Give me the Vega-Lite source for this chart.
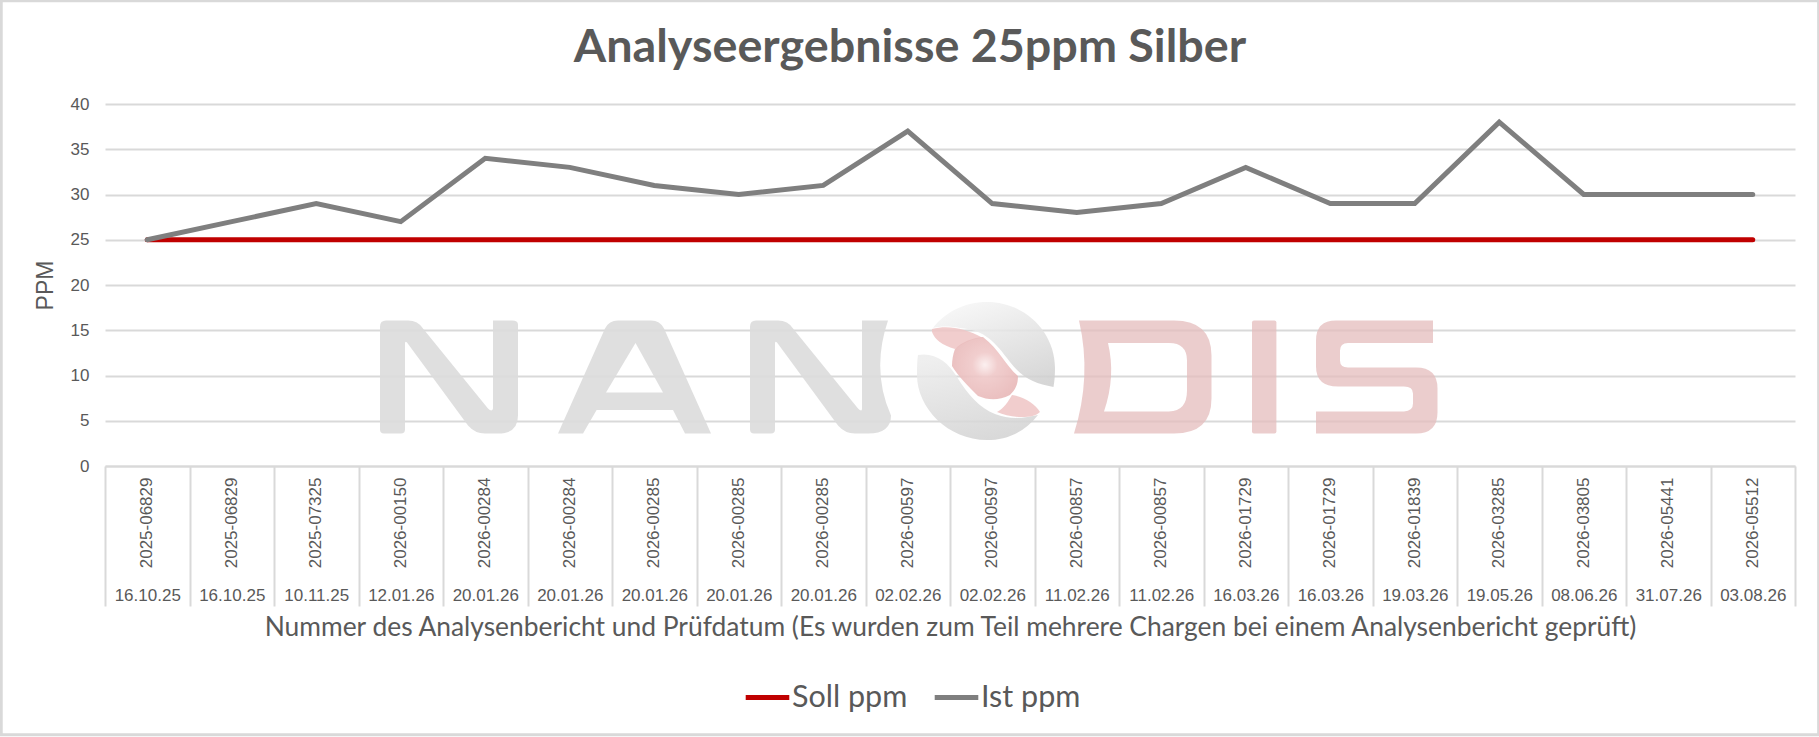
{
"$schema":"https://vega.github.io/schema/vega-lite/v6.json",
"width":1690,"height":362,"autosize":"none",
"padding":{"left":105,"top":104,"right":24,"bottom":271},
"background":"#ffffff",
"title":{"text":"Analyseergebnisse 25ppm Silber","font":"Lato","fontSize":46.7,"fontWeight":"bold","color":"#595959","anchor":"middle","frame":"group","dx":-40,"offset":-109,"baseline":"alphabetic"},
"config":{"view":{"stroke":null},"font":"Liberation Sans"},
"datasets":{"rows":[
{"key":"2025-06829|16.10.25|a","series":"Soll ppm","ppm":25},{"key":"2025-06829|16.10.25|b","series":"Soll ppm","ppm":25},{"key":"2025-07325|10.11.25","series":"Soll ppm","ppm":25},{"key":"2026-00150|12.01.26","series":"Soll ppm","ppm":25},{"key":"2026-00284|20.01.26|a","series":"Soll ppm","ppm":25},{"key":"2026-00284|20.01.26|b","series":"Soll ppm","ppm":25},{"key":"2026-00285|20.01.26|a","series":"Soll ppm","ppm":25},{"key":"2026-00285|20.01.26|b","series":"Soll ppm","ppm":25},{"key":"2026-00285|20.01.26|c","series":"Soll ppm","ppm":25},{"key":"2026-00597|02.02.26|a","series":"Soll ppm","ppm":25},{"key":"2026-00597|02.02.26|b","series":"Soll ppm","ppm":25},{"key":"2026-00857|11.02.26|a","series":"Soll ppm","ppm":25},{"key":"2026-00857|11.02.26|b","series":"Soll ppm","ppm":25},{"key":"2026-01729|16.03.26|a","series":"Soll ppm","ppm":25},{"key":"2026-01729|16.03.26|b","series":"Soll ppm","ppm":25},{"key":"2026-01839|19.03.26","series":"Soll ppm","ppm":25},{"key":"2026-03285|19.05.26","series":"Soll ppm","ppm":25},{"key":"2026-03805|08.06.26","series":"Soll ppm","ppm":25},{"key":"2026-05441|31.07.26","series":"Soll ppm","ppm":25},{"key":"2026-05512|03.08.26","series":"Soll ppm","ppm":25},
{"key":"2025-06829|16.10.25|a","series":"Ist ppm","ppm":25},{"key":"2025-06829|16.10.25|b","series":"Ist ppm","ppm":27},{"key":"2025-07325|10.11.25","series":"Ist ppm","ppm":29},{"key":"2026-00150|12.01.26","series":"Ist ppm","ppm":27},{"key":"2026-00284|20.01.26|a","series":"Ist ppm","ppm":34},{"key":"2026-00284|20.01.26|b","series":"Ist ppm","ppm":33},{"key":"2026-00285|20.01.26|a","series":"Ist ppm","ppm":31},{"key":"2026-00285|20.01.26|b","series":"Ist ppm","ppm":30},{"key":"2026-00285|20.01.26|c","series":"Ist ppm","ppm":31},{"key":"2026-00597|02.02.26|a","series":"Ist ppm","ppm":37},{"key":"2026-00597|02.02.26|b","series":"Ist ppm","ppm":29},{"key":"2026-00857|11.02.26|a","series":"Ist ppm","ppm":28},{"key":"2026-00857|11.02.26|b","series":"Ist ppm","ppm":29},{"key":"2026-01729|16.03.26|a","series":"Ist ppm","ppm":33},{"key":"2026-01729|16.03.26|b","series":"Ist ppm","ppm":29},{"key":"2026-01839|19.03.26","series":"Ist ppm","ppm":29},{"key":"2026-03285|19.05.26","series":"Ist ppm","ppm":38},{"key":"2026-03805|08.06.26","series":"Ist ppm","ppm":30},{"key":"2026-05441|31.07.26","series":"Ist ppm","ppm":30},{"key":"2026-05512|03.08.26","series":"Ist ppm","ppm":30}
]},
"resolve":{"scale":{"x":"independent"},"axis":{"x":"independent"}},
"layer":[
{"data":{"values":[{"part":"N"}]},"mark":{"type":"point","filled":true,"size":4,"opacity":0.9,"color":"#dcdcdc","shape":"M0,6 Q0,0 6,0 L28,0 Q38,0 43,8 L108,88 Q112,92 113,88 L113,0 L132,0 Q138,0 138,4 L138,95 Q138,113 118,113 L105,113 Q95,113 88,105 L27,22 Q25,20 25,23 L25,109 Q25,113 21,113 L4,113 Q0,113 0,109 Z"},"encoding":{"x":{"datum":16.272,"type":"quantitative","scale":{"domain":[0,100]},"axis":null},"y":{"datum":16.066,"type":"quantitative"}}},
{"data":{"values":[{"part":"A"}]},"mark":{"type":"point","filled":true,"size":4,"opacity":0.9,"color":"#dcdcdc","shape":"M0,113 L47,8 Q51,0 60,0 L93,0 Q102,0 106,8 L153,113 L127,113 L115,89.5 L38.6,89.5 L25,113 Z M77.5,22.5 L48,72 L105,72 Z"},"encoding":{"x":{"datum":26.805,"type":"quantitative","scale":{"domain":[0,100]},"axis":null},"y":{"datum":16.066,"type":"quantitative"}}},
{"data":{"values":[{"part":"N2"}]},"mark":{"type":"point","filled":true,"size":4,"opacity":0.9,"color":"#dcdcdc","shape":"M0,6 Q0,0 6,0 L28,0 Q38,0 43,8 L108,88 Q112,92 112,88 L112,0 L138,0 Q121,50 141,95 Q141,113 118,113 L105,113 Q95,113 88,105 L27,22 Q25,20 25,23 L25,109 Q25,113 21,113 L4,113 Q0,113 0,109 Z"},"encoding":{"x":{"datum":38.166,"type":"quantitative","scale":{"domain":[0,100]},"axis":null},"y":{"datum":16.066,"type":"quantitative"}}},
{"data":{"values":[{"part":"D"}]},"mark":{"type":"point","filled":true,"size":4,"opacity":0.75,"color":"#e4bcbc","shape":"M5,0 L100,0 Q137.5,0 137.5,35 L137.5,78 Q137.5,113 100,113 L0,113 Q18,56 5,0 Z M34,22.4 Q42,56 30,90.8 L95,90.8 Q113,90.8 113,70 L113,40 Q113,22.4 95,22.4 Z"},"encoding":{"x":{"datum":57.337,"type":"quantitative","scale":{"domain":[0,100]},"axis":null},"y":{"datum":16.066,"type":"quantitative"}}},
{"data":{"values":[{"part":"I"}]},"mark":{"type":"point","filled":true,"size":4,"opacity":0.75,"color":"#e4bcbc","shape":"M2,0 L22.4,0 Q24.4,0 24.4,2 L24.4,111 Q24.4,113 22.4,113 L2,113 Q0,113 0,111 L0,2 Q0,0 2,0 Z"},"encoding":{"x":{"datum":67.87,"type":"quantitative","scale":{"domain":[0,100]},"axis":null},"y":{"datum":16.066,"type":"quantitative"}}},
{"data":{"values":[{"part":"S"}]},"mark":{"type":"point","filled":true,"size":4,"opacity":0.75,"color":"#e4bcbc","shape":"M20,0 L117,0 L117,22.4 L32,22.4 Q24,22.4 24,30 L24,40 Q24,47 32,47 L100,47 Q121.5,47 121.5,68 L121.5,92 Q121.5,113 100,113 L0,113 L0,90.8 L88,90.8 Q97,90.8 97,83 L97,73 Q97,66 88,66 L22,66 Q0,66 0,46 L0,20 Q0,0 20,0 Z"},"encoding":{"x":{"datum":71.657,"type":"quantitative","scale":{"domain":[0,100]},"axis":null},"y":{"datum":16.066,"type":"quantitative"}}},
{"data":{"values":[{"part":"sphere upper"}]},"mark":{"type":"point","filled":true,"size":4,"opacity":0.85,"color":{"x1":0.3,"y1":0,"x2":0.8,"y2":1,"gradient":"linear","stops":[{"offset":0,"color":"#f5f5f5"},{"offset":1,"color":"#cfcfcf"}]},"shape":"M33,38 C45,22 65,12 87,12 C125,12 155,42 155,78 C155,85 154.5,91 153.5,97 C135,94 122,88 110,72 C95,52 85,40 60,38 C50,36 40,36 33,38 Z"},"encoding":{"x":{"datum":47.041,"type":"quantitative","scale":{"domain":[0,100]},"axis":null},"y":{"datum":19.448,"type":"quantitative"}}},
{"data":{"values":[{"part":"sphere lower"}]},"mark":{"type":"point","filled":true,"size":4,"opacity":0.85,"color":{"x1":0.3,"y1":0,"x2":0.6,"y2":1,"gradient":"linear","stops":[{"offset":0,"color":"#ececec"},{"offset":1,"color":"#d2d2d2"}]},"shape":"M18,65 C35,62 48,72 57,87 C68,105 80,118 95,124 C110,130 125,128 138,125 C125,142 107,150 87,150 C48,150 17,118 17,85 C17,78 17,71 18,65 Z"},"encoding":{"x":{"datum":47.041,"type":"quantitative","scale":{"domain":[0,100]},"axis":null},"y":{"datum":19.448,"type":"quantitative"}}},
{"data":{"values":[{"part":"lobe upper"}]},"mark":{"type":"point","filled":true,"size":4,"opacity":0.85,"color":"#eec4c4","shape":"M32,39 C48,35 65,38 83,48 C70,49 62,54 55,59 C42,55 35,50 32,42 Z"},"encoding":{"x":{"datum":47.041,"type":"quantitative","scale":{"domain":[0,100]},"axis":null},"y":{"datum":19.448,"type":"quantitative"}}},
{"data":{"values":[{"part":"core"}]},"mark":{"type":"point","filled":true,"size":4,"opacity":0.9,"color":{"gradient":"radial","x1":0.5,"y1":0.45,"r1":0,"x2":0.5,"y2":0.45,"r2":0.55,"stops":[{"offset":0,"color":"#fbeeee"},{"offset":0.35,"color":"#efc8c8"},{"offset":1,"color":"#e8b8b8"}]},"shape":"M55,59 C62,52 72,48 83,47 C100,60 105,75 118,86 C118,95 115,100 110,105 C98,111 88,110 78,106 C68,96 58,86 52,76 C52,70 53,64 55,59 Z"},"encoding":{"x":{"datum":47.041,"type":"quantitative","scale":{"domain":[0,100]},"axis":null},"y":{"datum":19.448,"type":"quantitative"}}},
{"data":{"values":[{"part":"lobe lower"}]},"mark":{"type":"point","filled":true,"size":4,"opacity":0.85,"color":"#eec4c4","shape":"M112,105 C125,107 135,114 140,122 C136,126 130,127 122,127 C112,127 104,125 97,122 C104,118 108,112 112,105 Z"},"encoding":{"x":{"datum":47.041,"type":"quantitative","scale":{"domain":[0,100]},"axis":null},"y":{"datum":19.448,"type":"quantitative"}}},
{"data":{"values":[{"part":"frame"}]},"mark":{"type":"rect","fillOpacity":0,"stroke":"#d9d9d9","strokeWidth":3,"clip":false},"encoding":{"x":{"datum":-6.14,"type":"quantitative","scale":{"domain":[0,100]},"axis":null},"x2":{"datum":101.4},"y":{"datum":51.4,"type":"quantitative"},"y2":{"datum":-29.7}}},
{"data":{"name":"rows"},"transform":[{"filter":"datum.series==='Soll ppm'"}],"mark":{"type":"line","strokeWidth":5,"strokeCap":"round"},
 "encoding":{"x":{"field":"key","type":"nominal","sort":null,"scale":{"type":"band","paddingInner":0,"paddingOuter":0},
   "axis":{"orient":"bottom","title":"Nummer des Analysenbericht und Prüfdatum (Es wurden zum Teil mehrere Chargen bei einem Analysenbericht geprüft)","titleFont":"Lato","titleFontSize":26.4,"titleFontWeight":"normal","titleColor":"#595959","titleBaseline":"middle","titleY":161,
   "ticks":false,"domain":true,"domainColor":"#d9d9d9","domainWidth":2,"labelAngle":-90,"labelAlign":"right","labelBaseline":"middle","labelPadding":11,"labelFont":"Liberation Sans","labelFontSize":17,"labelColor":"#595959","labelOverlap":false,"labelExpr":"split(datum.label,'|')[0]"}},
  "y":{"field":"ppm","type":"quantitative","scale":{"domain":[0,40]},"axis":{"values":[0,5,10,15,20,25,30,35,40],"title":"PPM","titleFont":"Liberation Sans","titleFontSize":23,"titleFontWeight":"normal","titleColor":"#595959","titleX":-60,"titleBaseline":"middle","ticks":false,"domain":false,"grid":true,"gridColor":"#d9d9d9","gridWidth":2,"labelPadding":16,"labelFont":"Liberation Sans","labelFontSize":17,"labelColor":"#595959"}},
  "color":{"field":"series","type":"nominal","scale":{"domain":["Soll ppm","Ist ppm"],"range":["#C00000","#7F7F7F"]},
   "legend":{"orient":"none","legendX":638,"legendY":569,"direction":"horizontal","columns":2,"title":null,"symbolType":"stroke","symbolSize":1900,"symbolStrokeWidth":5,"labelFont":"Lato","labelFontSize":30.5,"labelColor":"#595959","labelOffset":0,"columnPadding":16}}}},
{"data":{"name":"rows"},"transform":[{"filter":"datum.series==='Ist ppm'"}],"mark":{"type":"line","strokeWidth":5,"strokeCap":"round"},
 "encoding":{"x":{"field":"key","type":"nominal","sort":null,"scale":{"type":"band","paddingInner":0,"paddingOuter":0},
   "axis":{"orient":"bottom","title":null,"domain":false,"ticks":true,"tickBand":"extent","tickSize":140,"tickColor":"#d9d9d9","tickWidth":2,"labelAngle":0,"labelAlign":"center","labelBaseline":"middle","labelPadding":-11,"labelFont":"Liberation Sans","labelFontSize":17,"labelColor":"#595959","labelOverlap":false,"labelExpr":"split(datum.label,'|')[1]"}},
  "y":{"field":"ppm","type":"quantitative"},
  "color":{"field":"series","type":"nominal"}}}
]
}
